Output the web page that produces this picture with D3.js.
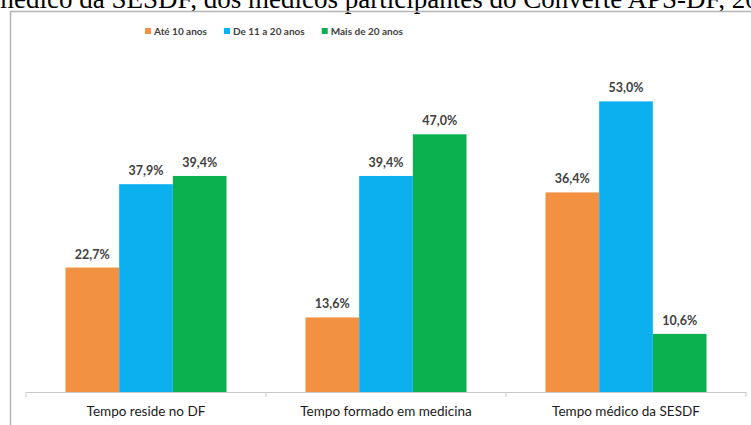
<!DOCTYPE html>
<html>
<head>
<meta charset="utf-8">
<script src="https://cdn.jsdelivr.net/npm/d3@7/dist/d3.min.js"></script>
<style>
  html, body { margin: 0; padding: 0; background: #fff; }
  svg { display: block; }
</style>
</head>
<body>
<svg id="chart" width="751" height="425"></svg>
<script>
// Tempo de residência, formação e atuação na SESDF dos médicos participantes
const categories = ["Tempo reside no DF", "Tempo formado em medicina", "Tempo médico da SESDF"];
const seriesNames = ["Até 10 anos", "De 11 a 20 anos", "Mais de 20 anos"];
const seriesColors = ["#F39143", "#0DB0EE", "#0BB14F"];
const ate10 = [22.7, 13.6, 36.4];
const de11a20 = [37.9, 39.4, 53.0];
const mais20 = [39.4, 47.0, 10.6];
const captionText = "médico da SESDF, dos médicos participantes do Converte APS-DF, 2016";

const seriesValues = [ate10, de11a20, mais20];
const svg = d3.select("#chart");
const fontUI = "Lato, 'Open Sans', sans-serif";

// caption line above the chart frame (runs off the page top and right)
svg.append("text")
  .attr("x", -7).attr("y", 8)
  .attr("font-family", "'Liberation Serif', 'Times New Roman', serif")
  .attr("font-size", 27)
  .attr("fill", "#000")
  .text(captionText);

// chart frame
svg.append("line").attr("x1", 10.5).attr("x2", 751).attr("y1", 11.5).attr("y2", 11.5)
  .attr("stroke", "#b4b4b4").attr("stroke-width", 1.5);
svg.append("line").attr("x1", 10.5).attr("x2", 10.5).attr("y1", 11).attr("y2", 425)
  .attr("stroke", "#b4b4b4").attr("stroke-width", 1.5);

const baseY = 392;
const y = d3.scaleLinear().domain([0, 60]).range([baseY, 63]);
const x = d3.scaleBand().domain(categories).range([26, 746]).paddingInner(0).paddingOuter(0);
const xs = d3.scaleBand().domain(seriesNames).range([0, x.bandwidth()])
  .paddingInner(0).paddingOuter(0.736);

const rows = [];
categories.forEach((c, ci) => {
  seriesNames.forEach((s, si) => {
    rows.push({ cat: c, series: s, si, value: seriesValues[si][ci] });
  });
});

// bars
svg.append("g").selectAll("rect").data(rows).join("rect")
  .attr("x", d => x(d.cat) + xs(d.series))
  .attr("width", xs.bandwidth())
  .attr("y", d => y(d.value))
  .attr("height", d => baseY - y(d.value))
  .attr("fill", d => seriesColors[d.si]);

// value labels
svg.append("g").selectAll("text").data(rows).join("text")
  .attr("x", d => x(d.cat) + xs(d.series) + xs.bandwidth() / 2)
  .attr("y", d => y(d.value) - 9)
  .attr("text-anchor", "middle")
  .attr("font-family", fontUI)
  .attr("font-weight", "bold")
  .attr("font-size", 12.5)
  .attr("fill", "#404040")
  .text(d => d.value.toFixed(1).replace(".", ",") + "%");

// category axis
const axis = svg.append("g").attr("transform", `translate(0,${baseY})`)
  .call(d3.axisBottom(x).tickSize(0).tickPadding(14));
axis.select(".domain").attr("stroke", "#c8c8c8").attr("stroke-width", 1.2);
axis.selectAll("text")
  .attr("font-family", fontUI)
  .attr("font-size", 13.5)
  .attr("fill", "#1a1a1a");
// separators between categories
const seps = [x.range()[0], ...categories.map(c => x(c) + x.bandwidth())];
axis.selectAll(".sep").data(seps).join("line")
  .attr("class", "sep")
  .attr("x1", d => d).attr("x2", d => d)
  .attr("y1", 0).attr("y2", 5)
  .attr("stroke", "#c8c8c8");

// legend
const legend = svg.append("g").attr("transform", "translate(145,31)");
let lx = 0;
seriesNames.forEach((name, i) => {
  const g = legend.append("g").attr("transform", `translate(${lx},0)`);
  g.append("rect").attr("x", 0).attr("y", -3).attr("width", 6).attr("height", 6)
    .attr("fill", seriesColors[i]);
  const t = g.append("text").attr("x", 9).attr("y", 3.5)
    .attr("font-family", fontUI)
    .attr("font-size", 10)
    .attr("font-weight", "bold")
    .attr("fill", "#404040")
    .text(name);
  lx += 9 + t.node().getComputedTextLength() + 17;
});
</script>
</body>
</html>
